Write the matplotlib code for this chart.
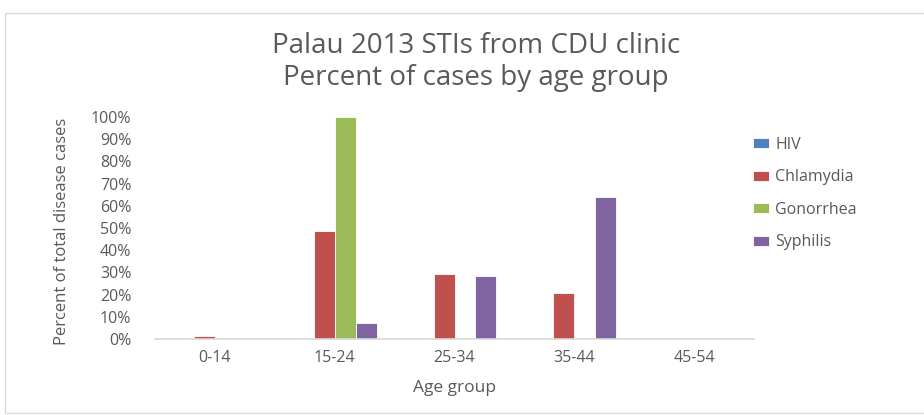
import matplotlib
matplotlib.use("Agg")
import matplotlib.pyplot as plt
import numpy as np
from matplotlib.ticker import PercentFormatter
from matplotlib.patches import Rectangle

categories = ["0-14", "15-24", "25-34", "35-44", "45-54"]
series_names = ["HIV", "Chlamydia", "Gonorrhea", "Syphilis"]
hiv = [0, 0, 0, 0, 0]
chlamydia = [1.4, 48.5, 29.4, 20.6, 0]
gonorrhea = [0, 100, 0, 0, 0]
syphilis = [0, 7.1, 28.2, 64.1, 0]
colors = ["#4F81BD", "#C0504D", "#9BBB59", "#8064A2"]

plt.rcParams['font.family'] = ['Open Sans', 'DejaVu Sans']
text_color = "#595959"

fig = plt.figure(figsize=(9.24, 4.15), dpi=100)
W, H = 924, 415
# chart frame
fig.patches.append(Rectangle((5 / W, 2 / H), 1.0, 1 - 15 / H, transform=fig.transFigure,
                             fill=False, edgecolor="#D9D9D9", linewidth=1.0))

ax = fig.add_axes([155 / W, 1 - 339 / H, (754 - 155) / W, (339 - 117) / H])

x = np.arange(len(categories))
bw = 0.175
for i, (name, vals) in enumerate(zip(series_names, [hiv, chlamydia, gonorrhea, syphilis])):
    ax.bar(x + (i - 1.5) * bw, vals, width=bw, color=colors[i], label=name,
           edgecolor="white", linewidth=0.6)

ax.set_xlim(-0.5, len(categories) - 0.5)
ax.set_ylim(0, 100)
ax.set_yticks(np.arange(0, 101, 10))
ax.yaxis.set_major_formatter(PercentFormatter(decimals=0))
ax.set_xticks(x)
ax.set_xticklabels(categories)
for s in ["top", "right", "left"]:
    ax.spines[s].set_visible(False)
ax.spines["bottom"].set_color("#D9D9D9")
ax.spines["bottom"].set_linewidth(1.2)
ax.tick_params(axis="both", length=0, colors=text_color, labelsize=11.5)
ax.tick_params(axis="y", pad=17)
ax.tick_params(axis="x", pad=8)

ax.set_xlabel("Age group", color=text_color, fontsize=12.5, labelpad=10)
fig.text(62 / W, 1 - 231 / H, "Percent of total disease cases", rotation=90,
         ha="center", va="center", color=text_color, fontsize=12)

fig.text(476 / W, 1 - 46 / H, "Palau 2013 STIs from CDU clinic", ha="center", va="center",
         color=text_color, fontsize=20)
fig.text(476 / W, 1 - 78 / H, "Percent of cases by age group", ha="center", va="center",
         color=text_color, fontsize=20)

leg = fig.legend(loc="upper left", bbox_to_anchor=(745 / W, 1 - 129 / H), frameon=False,
                 fontsize=11.5, handlelength=1.0, handleheight=0.6, labelspacing=1.03,
                 handletextpad=0.4, borderpad=0)
for t in leg.get_texts():
    t.set_color(text_color)

fig.savefig("out.png", dpi=100)
